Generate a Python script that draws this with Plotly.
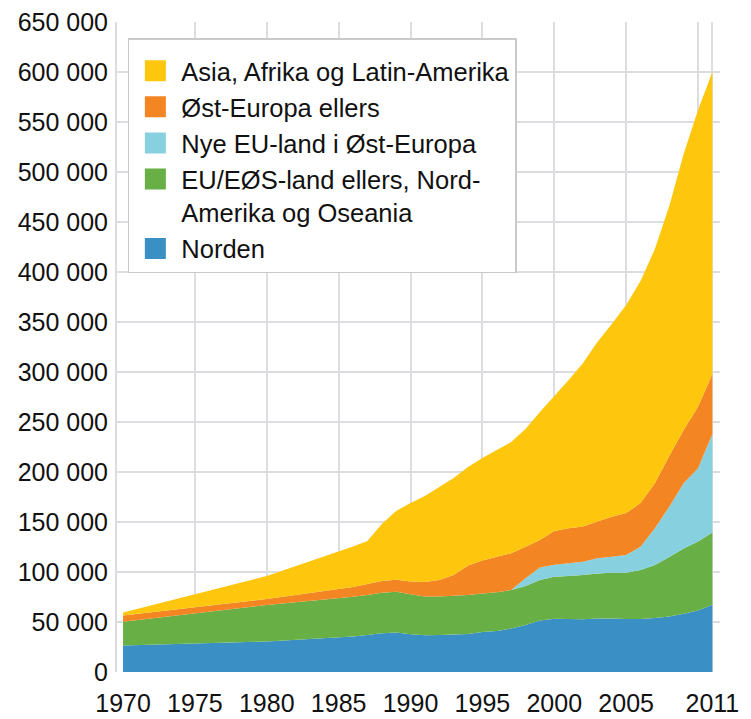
import plotly.graph_objects as go

# ---- data ----
years = [1970, 1980, 1986, 1987, 1988, 1989, 1990, 1991, 1992, 1993, 1994,
         1995, 1996, 1997, 1998, 1999, 2000, 2001, 2002, 2003, 2004, 2005,
         2006, 2007, 2008, 2009, 2010, 2011]

norden = [26500, 30500, 35500, 37000, 38700, 39500, 37700, 36800, 37000, 37500,
          38000, 40000, 41000, 43500, 47000, 51500, 53200, 53000, 52800, 53500,
          53500, 52900, 53000, 53900, 55500, 58200, 61600, 67300]

eu_eos = [23800, 36500, 39800, 40000, 40600, 40800, 40000, 38700, 38500, 38800,
          39000, 38500, 38700, 38500, 39000, 40500, 42100, 43000, 44200, 45000,
          45800, 46400, 49000, 53100, 59500, 65300, 68900, 72200]

nye_eu = [0, 0, 0, 0, 0, 0, 0, 0, 0, 0,
          0, 0, 0, 0, 7700, 12500, 12000, 12700, 13300, 15200,
          16000, 17700, 23300, 36700, 50300, 65200, 73200, 98500]

ost_europa = [6200, 6000, 9700, 11000, 11700, 12000, 12800, 14500, 16500, 20700,
              29500, 33000, 35600, 36700, 31600, 27500, 33700, 35000, 35200, 36800,
              40000, 42000, 43700, 45000, 50700, 53300, 61600, 60000]

asia_afrika = [3000, 23000, 40500, 43000, 57000, 68700, 78500, 86000, 93000, 97000,
               98500, 102500, 106700, 111300, 117700, 128000, 135000, 148300, 163500, 179500,
               192700, 208000, 222000, 234300, 250000, 276000, 296700, 302000]

series_names = ["Norden",
                "EU/EØS-land ellers, Nord-<br>Amerika og Oseania",
                "Nye EU-land i Øst-Europa",
                "Øst-Europa ellers",
                "Asia, Afrika og Latin-Amerika"]
series_values = [norden, eu_eos, nye_eu, ost_europa, asia_afrika]
colors = ["#3a8fc5", "#68b045", "#86d0df", "#f38523", "#fec70d"]

y_ticks = list(range(0, 650001, 50000))
x_tick_vals = [1970, 1975, 1980, 1985, 1990, 1995, 2000, 2005, 2011]
x_tick_text = [str(v) for v in x_tick_vals]
x_grid_vals = [1975, 1980, 1985, 1990, 1995, 2000, 2005, 2010, 2011]

FONT = "Liberation Sans, Arial, Helvetica, sans-serif"
GRID = "#dcdde1"
TXT = "#111111"

fig = go.Figure()

# stacked areas
for name, vals, col in zip(series_names, series_values, colors):
    fig.add_trace(go.Scatter(
        x=years, y=vals, name=name, stackgroup="one", mode="none",
        fillcolor=col, showlegend=False, hoverinfo="x+y+name"))

# legend entries (top to bottom as in reference)
for name, col in zip(reversed(series_names), reversed(colors)):
    fig.add_trace(go.Scatter(
        x=[None], y=[None], name=name, mode="markers",
        marker=dict(symbol="square", size=16, color=col,
                    line=dict(color=col, width=5)),
        showlegend=True, hoverinfo="skip"))

fig.update_layout(
    width=751, height=719,
    margin=dict(l=117, r=31, t=22, b=47, autoexpand=False),
    paper_bgcolor="white", plot_bgcolor="white",
    separators=", ",
    font=dict(family=FONT, size=25, color=TXT),
    showlegend=True,
    legend=dict(
        x=0.018, y=0.975, xanchor="left", yanchor="top",
        bgcolor="white", bordercolor="#c9c9c9", borderwidth=1.5,
        font=dict(family=FONT, size=25.5, color=TXT),
        traceorder="normal", valign="top", itemwidth=42,
        itemsizing="trace",
        title=dict(text=" ", font=dict(size=6)),
    ),
    xaxis=dict(
        range=[1969.58, 2011.53], tickmode="array",
        tickvals=x_tick_vals, ticktext=x_tick_text,
        showgrid=False, zeroline=False, showline=False, ticks="",
        ticklabelstandoff=14, automargin=False,
        tickfont=dict(family=FONT, size=25, color=TXT),
        minor=dict(tickmode="array", tickvals=x_grid_vals, showgrid=True,
                   gridcolor=GRID, gridwidth=2, ticks=""),
    ),
    yaxis=dict(
        range=[0, 650000], tickmode="array", tickvals=y_ticks,
        tickformat=",d", showgrid=True, gridcolor=GRID, gridwidth=2,
        zeroline=False, showline=True, linecolor=GRID, linewidth=2,
        ticks="", ticklabelstandoff=2, automargin=False,
        tickfont=dict(family=FONT, size=25, color=TXT),
    ),
)

fig.write_html(
    "out.html",
    config={"displayModeBar": False},
    post_script="document.body.style.margin='0';document.body.style.overflow='hidden';",
)
